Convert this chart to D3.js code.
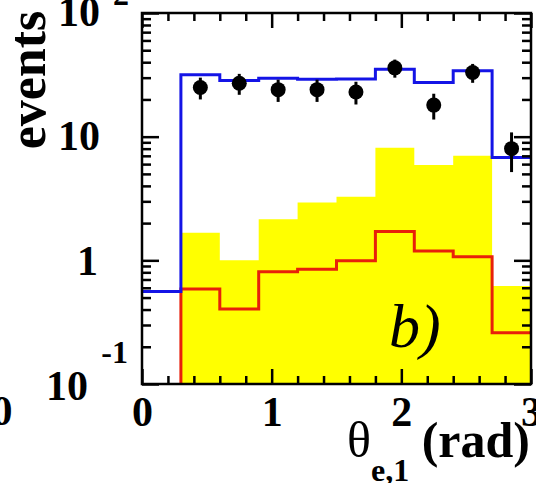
<!DOCTYPE html>
<html>
<head>
<meta charset="utf-8">
<script src="https://cdn.jsdelivr.net/npm/d3@7"></script>
<style>
  html, body { margin: 0; padding: 0; background: #fff; }
  svg { display: block; }
  text { font-family: "Liberation Serif", "DejaVu Serif", serif; }
</style>
</head>
<body>
<svg id="chart" width="536" height="483"></svg>
<script>
// θ_e,1 distribution, 10 bins of 0.3 rad between 0 and 3
const binEdges = [0, 0.3, 0.6, 0.9, 1.2, 1.5, 1.8, 2.1, 2.4, 2.7, 3.0];
const totalMC   = [0.56, 31.6, 28.4, 29.7, 29.1, 29.3, 35.1, 27.4, 34.2, 6.8];   // blue outline
const background = [0, 1.67, 1.0, 2.15, 2.93, 3.27, 8.15, 5.9, 7.0, 0.62];      // yellow fill
const signalMC  = [0, 0.587, 0.405, 0.81, 0.847, 0.99, 1.71, 1.19, 1.07, 0.26]; // red outline
const dataX     = [0.45, 0.75, 1.05, 1.35, 1.65, 1.95, 2.25, 2.55, 2.85];
const dataN     = [25, 27, 24, 24, 23, 36, 18, 33, 8];
const xTickValues = [0, 1, 2, 3];
const yLabels = [
  { v: 100, base: "10", exp: "2" },
  { v: 10,  base: "10" },
  { v: 1,   base: "1" },
  { v: 0.1, base: "10", exp: "-1" }
];

const svg = d3.select("#chart");
const frameL = 142, frameR = 531, frameT = 13, frameB = 384;

const x = d3.scaleLinear().domain([0, 3]).range([frameL, frameR]);
const y = d3.scaleLog().domain([0.1, 100]).range([frameB, frameT]);
const yv = v => (v > 0 ? y(v) : frameB + 10);

svg.append("defs").append("clipPath").attr("id", "frame")
  .append("rect").attr("x", frameL).attr("y", frameT)
  .attr("width", frameR - frameL).attr("height", frameB - frameT);

const plot = svg.append("g").attr("clip-path", "url(#frame)");

// step-shaped series: one point per bin low edge, closed at the last edge
const stepPoints = vals => vals.map((v, i) => [binEdges[i], v])
  .concat([[binEdges[binEdges.length - 1], vals[vals.length - 1]]]);

const area = d3.area().curve(d3.curveStepAfter)
  .x(d => x(d[0])).y0(frameB).y1(d => yv(d[1]));
const line = d3.line().curve(d3.curveStepAfter)
  .x(d => x(d[0])).y(d => yv(d[1]));

plot.append("path").datum(stepPoints(background))
  .attr("d", area).attr("fill", "#ffff00").attr("stroke", "none");

plot.append("path").datum(stepPoints(signalMC))
  .attr("d", line).attr("fill", "none").attr("stroke", "#e8200a").attr("stroke-width", 3);

plot.append("path").datum(stepPoints(totalMC))
  .attr("d", line).attr("fill", "none").attr("stroke", "#1414e6").attr("stroke-width", 3);

// data points with sqrt(N) error bars
const pts = plot.append("g").selectAll("g").data(dataX.map((d, i) => ({ x: d, n: dataN[i] })))
  .join("g");
pts.append("line")
  .attr("x1", d => x(d.x)).attr("x2", d => x(d.x))
  .attr("y1", d => y(d.n + Math.sqrt(d.n))).attr("y2", d => y(d.n - Math.sqrt(d.n)))
  .attr("stroke", "#000").attr("stroke-width", 3);
pts.append("circle")
  .attr("cx", d => x(d.x)).attr("cy", d => y(d.n)).attr("r", 7.5).attr("fill", "#000");

// axes: ticks on all four sides, pointing inward
const xMinor = d3.range(0, 3.001, 0.2).filter(v => Math.abs(v - Math.round(v)) > 1e-6);
const yMinor = [];
[0.1, 1, 10].forEach(dec => { for (let k = 2; k <= 9; k++) yMinor.push(dec * k); });

const axisStyle = g => {
  g.select(".domain").remove();
  g.selectAll(".tick line").attr("stroke", "#000").attr("stroke-width", 2.5);
};

svg.append("g").attr("transform", `translate(0,${frameB})`)
  .call(d3.axisBottom(x).tickValues(xMinor).tickSize(-8).tickFormat(""))
  .call(axisStyle);
svg.append("g").attr("transform", `translate(0,${frameB})`)
  .call(d3.axisBottom(x).tickValues(xTickValues).tickSizeInner(-15).tickSizeOuter(0).tickPadding(12)
    .tickFormat(d3.format("d")))
  .call(axisStyle)
  .call(g => g.selectAll("text").attr("fill", "#000")
    .style("font-size", "42px").style("font-weight", "bold"));
svg.append("g").attr("transform", `translate(0,${frameT})`)
  .call(d3.axisTop(x).tickValues(xMinor).tickSize(-8).tickFormat(""))
  .call(axisStyle);
svg.append("g").attr("transform", `translate(0,${frameT})`)
  .call(d3.axisTop(x).tickValues(xTickValues).tickSize(-15).tickFormat(""))
  .call(axisStyle);

svg.append("g").attr("transform", `translate(${frameL},0)`)
  .call(d3.axisLeft(y).tickValues(yMinor).tickSize(-9).tickFormat(""))
  .call(axisStyle);
svg.append("g").attr("transform", `translate(${frameL},0)`)
  .call(d3.axisLeft(y).tickValues([0.1, 1, 10, 100]).tickSize(-17).tickFormat(""))
  .call(axisStyle);
svg.append("g").attr("transform", `translate(${frameR},0)`)
  .call(d3.axisRight(y).tickValues(yMinor).tickSize(-9).tickFormat(""))
  .call(axisStyle);
svg.append("g").attr("transform", `translate(${frameR},0)`)
  .call(d3.axisRight(y).tickValues([0.1, 1, 10, 100]).tickSize(-17).tickFormat(""))
  .call(axisStyle);

// frame
svg.append("rect").attr("x", frameL).attr("y", frameT)
  .attr("width", frameR - frameL).attr("height", frameB - frameT)
  .attr("fill", "none").attr("stroke", "#000").attr("stroke-width", 2.5);

// y tick labels (power-of-ten style)
const yl = svg.append("g").attr("fill", "#000").style("font-weight", "bold");
yLabels.forEach(d => {
  const py = y(d.v);
  if (d.v === 0.1) {
    yl.append("text").attr("x", 88).attr("y", py + 16).attr("text-anchor", "end")
      .style("font-size", "42px").text(d.base);
    yl.append("text").attr("x", 128).attr("y", py - 21).attr("text-anchor", "end")
      .style("font-size", "32px").text(d.exp);
  } else {
    yl.append("text").attr("x", d.v === 1 ? 98 : 100).attr("y", py + (d.v === 1 ? 15 : 13))
      .attr("text-anchor", "end").style("font-size", "42px").text(d.base);
    if (d.exp) {
      yl.append("text").attr("x", 129).attr("y", py - 8).attr("text-anchor", "end")
        .style("font-size", "32px").text(d.exp);
    }
  }
});

// neighbouring pad's axis label at the left edge
svg.append("text").attr("x", 2).attr("y", 425).attr("text-anchor", "middle")
  .style("font-size", "42px").style("font-weight", "bold").text("0");

// axis titles
svg.append("text")
  .attr("transform", "translate(45,80) rotate(-90)")
  .attr("text-anchor", "middle")
  .style("font-size", "52px").style("font-weight", "bold").text("events");

const xt = svg.append("text").attr("x", 530).attr("y", 457).attr("text-anchor", "end");
xt.append("tspan").style("font-size", "50px").text("θ");
xt.append("tspan").attr("dy", 24).style("font-size", "32px").style("font-weight", "bold").text("e,1");
xt.append("tspan").attr("dy", -24).style("font-size", "50px").style("font-weight", "bold").text(" (rad)");

// panel tag
svg.append("text").attr("x", 389).attr("y", 347)
  .style("font-size", "62px").style("font-style", "italic").text("b)");
</script>
</body>
</html>
